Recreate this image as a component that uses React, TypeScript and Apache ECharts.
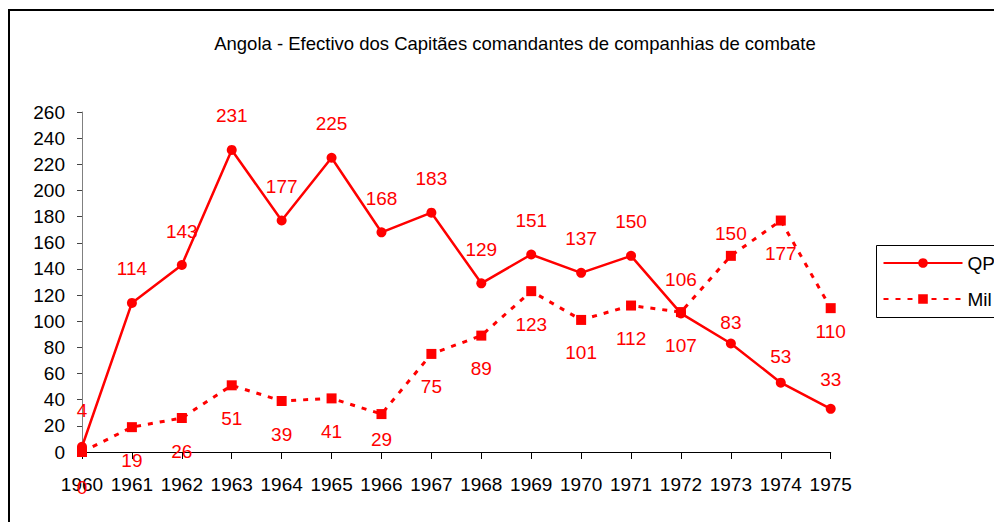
import React, { useEffect, useRef } from "react";
import * as echarts from "echarts";

const years = ["1960", "1961", "1962", "1963", "1964", "1965", "1966", "1967", "1968", "1969", "1970", "1971", "1972", "1973", "1974", "1975"];
const qpValues = [4, 114, 143, 231, 177, 225, 168, 183, 129, 151, 137, 150, 106, 83, 53, 33];
const milValues = [0, 19, 26, 51, 39, 41, 29, 75, 89, 123, 101, 112, 107, 150, 177, 110];
const yTicks = { min: 0, max: 260, interval: 20 };
const titleText = "Angola - Efectivo dos Capitães comandantes de companhias de combate";

// label vertical offsets (style only)
const qpLabelShift: Record<number, number> = { 0: -36, 13: -21, 14: -26, 15: -29 };
const milLabelShift: Record<number, number> = { 0: 35, 6: 25, 13: -22, 15: 23 };

const FONT = '"Liberation Sans", Arial, sans-serif';
const RED = "#ff0000";
const FS = 19;

export default function App() {
  const ref = useRef<HTMLDivElement>(null);
  useEffect(() => {
    if (!ref.current) return;
    const chart = echarts.init(ref.current, undefined, { renderer: "svg" });
    const mk = (vals: number[], shift: Record<number, number>, def: number) =>
      vals.map((v, i) => ({
        value: v,
        label: { offset: [0, shift[i] !== undefined ? shift[i] : def] },
      }));
    chart.setOption({
      animation: false,
      textStyle: { fontFamily: FONT },
      title: {
        text: titleText,
        left: 502,
        top: 21,
        textAlign: "center",
        textStyle: { fontFamily: FONT, fontSize: 18.5, fontWeight: "normal", color: "#000" },
      },
      graphic: [
        {
          type: "polyline",
          shape: { points: [[1, 514], [1, 2], [994, 2]] },
          style: { stroke: "#000", lineWidth: 2, fill: "none" },
          silent: true,
        },
        {
          type: "rect",
          shape: { x: 868.5, y: 237.5, width: 200, height: 72 },
          style: { stroke: "#000", lineWidth: 1, fill: "none" },
          silent: true,
        },
      ],
      legend: {
        orient: "vertical",
        left: 874.5,
        top: 245.5,
        padding: 0,
        itemGap: 17,
        itemWidth: 79,
        itemHeight: 12,
        textStyle: { fontFamily: FONT, fontSize: FS, color: "#000" },
        data: ["QP", "Mil"],
      },
      grid: { left: 74, top: 104, width: 748.7, bottom: 70 },
      xAxis: {
        type: "category",
        data: years,
        boundaryGap: false,
        axisLine: { lineStyle: { color: "#000", width: 1 } },
        axisTick: { show: true, length: 7, lineStyle: { color: "#000" } },
        axisLabel: { fontFamily: FONT, fontSize: FS, color: "#000", margin: 23, interval: 0 },
        splitLine: { show: false },
      },
      yAxis: {
        type: "value",
        min: yTicks.min,
        max: yTicks.max,
        interval: yTicks.interval,
        axisLine: { show: true, lineStyle: { color: "#808080", width: 1 } },
        axisTick: { show: true, length: 5, lineStyle: { color: "#444" } },
        axisLabel: { fontFamily: FONT, fontSize: FS, color: "#000", margin: 17 },
        splitLine: { show: false },
      },
      series: [
        {
          name: "QP",
          type: "line",
          data: mk(qpValues, qpLabelShift, -34),
          symbol: "circle",
          symbolSize: 10,
          lineStyle: { color: RED, width: 2.5 },
          itemStyle: { color: RED },
          label: { show: true, position: "inside", color: RED, fontFamily: FONT, fontSize: FS },
          z: 2,
        },
        {
          name: "Mil",
          type: "line",
          data: mk(milValues, milLabelShift, 33),
          symbol: "rect",
          symbolSize: 10,
          lineStyle: { color: RED, width: 3, type: [5, 7] },
          itemStyle: { color: RED },
          label: { show: true, position: "inside", color: RED, fontFamily: FONT, fontSize: FS },
          z: 3,
        },
      ],
    });
    return () => chart.dispose();
  }, []);
  return <div ref={ref} style={{ width: 994, height: 514 }} />;
}
